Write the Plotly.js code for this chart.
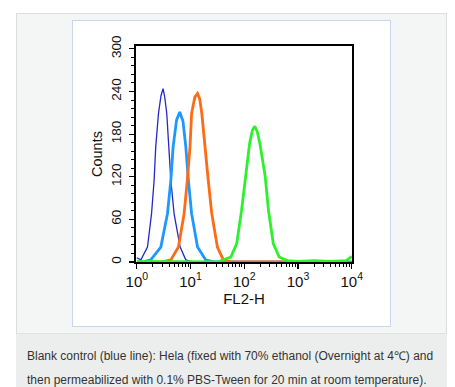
<!DOCTYPE html>
<html>
<head>
<meta charset="utf-8">
<script src="https://cdn.plot.ly/plotly-3.0.1.min.js"></script>
<style>
  html, body { margin:0; padding:0; background:#ffffff; }
  #wrap { position:relative; width:455px; height:387px; overflow:hidden; }
  #panel { position:absolute; left:16px; top:13px; width:431px; height:380px; background:#f4f5f5; border:1px solid #dddddd; box-sizing:border-box; }
  #capbg { position:absolute; left:16px; top:333px; width:431px; height:60px; background:#eceeee; border-top:1px solid #e0e2e2; box-sizing:border-box; }
  #box { position:absolute; left:72px; top:20px; width:319px; height:307px; background:#ffffff; border:1px solid #c9d7ec; box-sizing:border-box; }
  #cap { position:absolute; left:27px; top:344px; width:428px; font-family:"Liberation Sans", Arial, sans-serif; font-size:12px; color:#333333; line-height:24px; white-space:nowrap; }
  #chart { position:absolute; left:0; top:0; width:455px; height:387px; }
</style>
</head>
<body>
<div id="wrap">
  <div id="panel"></div>
  <div id="capbg"></div>
  <div id="box"></div>
  <div id="cap">Blank control (blue line): Hela (fixed with 70% ethanol (Overnight at 4℃) and<br>then permeabilized with 0.1% PBS-Tween for 20 min at room temperature).</div>
  <div id="chart"></div>
</div>
<script>
// FL2-H values (log axis) and counts
const blankX  = [1.0, 1.19, 1.58, 1.88, 2.10, 2.25, 2.53, 2.82, 3.08, 3.31, 3.61, 3.89, 4.30, 4.94, 6.40, 8.17, 10.0, 30, 10000];
const blankY  = [6, 3, 21, 68, 115, 162, 209, 234, 244, 232, 209, 162, 115, 68, 21, 3, 1, 0, 0];

const isoX    = [1.26, 1.82, 2.80, 3.72, 4.30, 4.74, 5.50, 6.31, 7.24, 8.17, 9.12, 10.47, 13.49, 19.05, 28.2, 10000];
const isoY    = [0, 3, 21, 68, 115, 162, 200, 211, 198, 162, 115, 68, 21, 3, 0, 0];

const orangeX = [2.82, 4.30, 5.96, 7.59, 8.71, 9.77, 10.47, 12.02, 13.49, 14.79, 16.22, 18.41, 21.38, 24.83, 31.62, 40.74, 56.2, 631];
const orangeY = [0, 3, 21, 68, 115, 162, 209, 232, 237, 230, 209, 162, 115, 68, 21, 3, 0, 0];

const greenX  = [1.0, 31.6, 56.2, 72.4, 89.1, 107.2, 125.9, 141.3, 156.7, 173.8, 195.0, 245.5, 281.8, 346.7, 446.7, 631, 1000, 1995, 3981, 7943, 10000];
const greenY  = [1, 0, 7, 26, 73, 120, 167, 185, 191, 184, 167, 120, 73, 26, 7, 2, 1, 2, 1, 2, 8];

const xTickVals = [1, 10, 100, 1000, 10000];
const xTickText = ['10<sup>0</sup>', '10<sup>1</sup>', '10<sup>2</sup>', '10<sup>3</sup>', '10<sup>4</sup>'];
const yTickVals = [0, 60, 120, 180, 240, 300];

const traces = [
  {x: blankX, y: blankY, mode:'lines', line:{color:'#2626cc', width:1.3}},
  {x: isoX, y: isoY, mode:'lines', line:{color:'#1e98ff', width:2.8}},
  {x: orangeX, y: orangeY, mode:'lines', line:{color:'#ff6a14', width:2.8}},
  {x: greenX, y: greenY, mode:'lines', line:{color:'#2ef02e', width:2.8}}
];

const fam = '"Liberation Sans", Arial, sans-serif';

const layout = {
  width:455, height:387,
  margin:{l:136, r:103, t:46, b:125},
  paper_bgcolor:'rgba(0,0,0,0)',
  plot_bgcolor:'#ffffff',
  showlegend:false,
  font: {family:fam, color:'#111111'},
  xaxis:{
    type:'log', range:[-0.015, 4.005],
    tickvals:xTickVals, ticktext:xTickText,
    ticks:'outside', ticklen:5, tickwidth:1.2, tickcolor:'#000',
    minor:{ticks:'outside', ticklen:3, tickwidth:1, tickcolor:'#000', dtick:'D1', showgrid:false},
    showline:true, linecolor:'#000', linewidth:1.7, mirror:true,
    showgrid:false, zeroline:false,
    tickfont:{size:15, family:fam, color:'#111'},
    title:{text:'FL2-H', font:{size:15, family:fam, color:'#111'}, standoff:0}
  },
  yaxis:{
    range:[0, 304],
    tickvals:yTickVals,
    ticks:'outside', ticklen:5, tickwidth:1.2, tickcolor:'#000',
    minor:{ticks:'outside', ticklen:3, tickwidth:1, tickcolor:'#000', dtick:12, showgrid:false},
    showline:true, linecolor:'#000', linewidth:1.7, mirror:true,
    showgrid:false, zeroline:false,
    tickangle:-90, ticklabelstandoff:3,
    tickfont:{size:13.5, family:fam, color:'#111'},
    title:{text:'Counts', font:{size:14.5, family:fam, color:'#111'}, standoff:3}
  }
};

Plotly.newPlot('chart', traces, layout, {staticPlot:true, displayModeBar:false});
</script>
</body>
</html>
